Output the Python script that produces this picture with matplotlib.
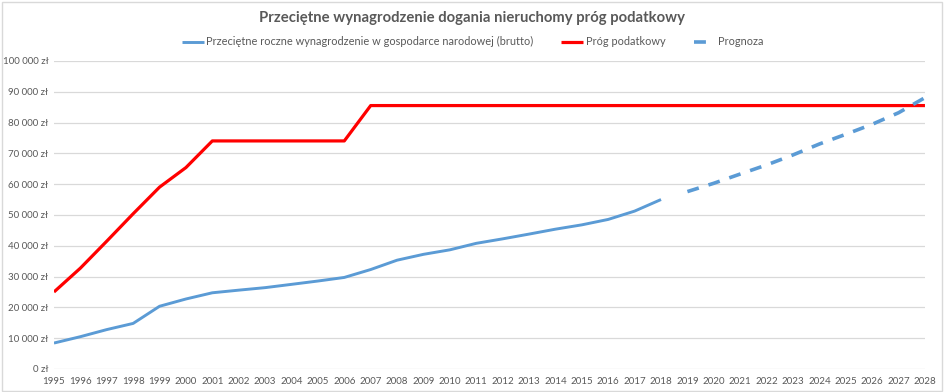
import matplotlib
matplotlib.use("Agg")
import matplotlib.pyplot as plt
from matplotlib.patches import Rectangle

# dane
years = list(range(1995, 2029))
wage_years = list(range(1995, 2019))
wage = [8424, 10488, 12792, 14796, 20364, 22728, 24744, 25596, 26412, 27480,
        28560, 29724, 32292, 35328, 37228, 38690, 40800, 42252, 43800, 45396,
        46800, 48564, 51264, 55020]
threshold = [25000, 32736, 41496, 50400, 59040, 65400, 74048, 74048, 74048, 74048,
             74048, 74048, 85528, 85528, 85528, 85528, 85528, 85528, 85528, 85528,
             85528, 85528, 85528, 85528, 85528, 85528, 85528, 85528, 85528, 85528,
             85528, 85528, 85528, 85528]
forecast_years = list(range(2019, 2029))
forecast = [57600, 60300, 63300, 66250, 69500, 73050, 76200, 79450, 83200, 88100]

title = "Przeciętne wynagrodzenie dogania nieruchomy próg podatkowy"
labels = ["Przeciętne roczne wynagrodzenie w gospodarce narodowej (brutto)",
          "Próg podatkowy", "Prognoza"]

plt.rcParams['font.family'] = ['Lato', 'DejaVu Sans']
txt = '#595959'

fig = plt.figure(figsize=(9.45, 3.92), dpi=100)
ax = fig.add_axes([0.0571, 0.0587, 0.9217, 0.7857])

ax.plot(wage_years, wage, color='#5b9bd5', lw=2.1, solid_capstyle='butt')
ax.plot(years, threshold, color='#ff0000', lw=2.3, solid_capstyle='butt')
ax.plot(forecast_years, forecast, color='#5b9bd5', lw=2.6,
        dashes=(3.3, 2.8), dash_capstyle='butt')

ax.set_xlim(1995, 2028)
ax.set_ylim(0, 100000)
ax.set_xticks(years)
ax.set_xticklabels([str(y) for y in years])
ax.set_yticks(range(0, 100001, 10000))
ax.set_yticklabels([f"{v:,}".replace(",", " ") + " zł" for v in range(0, 100001, 10000)])
ax.tick_params(length=0, labelsize=7, colors=txt, pad=4)
ax.tick_params(axis='x', pad=6)
ax.grid(axis='y', color='#d9d9d9', lw=0.9)
ax.set_axisbelow(True)
for s in ax.spines.values():
    s.set_visible(False)

fig.text(0.5, 0.955, title, ha='center', va='center', fontsize=10.7,
         fontweight='bold', color=txt)
fig.legend(ax.get_lines(), labels, loc='center', bbox_to_anchor=(0.5, 0.893),
           ncol=3, frameon=False, fontsize=7.9, labelcolor=txt,
           handlelength=2.0, handletextpad=0.2, columnspacing=2.6)

fig.patches.append(Rectangle((0.002, 0.003), 0.995, 0.993, transform=fig.transFigure,
                             fill=False, edgecolor='#d9d9d9', lw=1))

fig.savefig('out.png', dpi=100)
